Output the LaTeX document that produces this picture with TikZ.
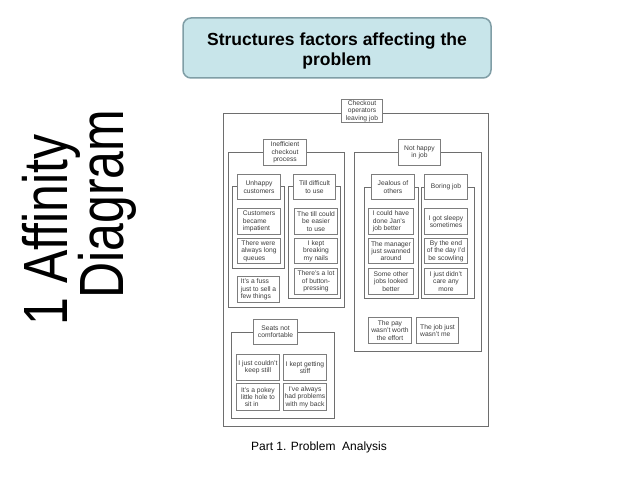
\documentclass[tikz,border=0pt]{standalone}
\usepackage{fontspec}
\setmainfont{Liberation Sans}
\definecolor{cardgray}{RGB}{125,125,125}
\definecolor{framegray}{RGB}{110,110,110}
\definecolor{titlefill}{RGB}{200,229,234}
\definecolor{titledraw}{RGB}{128,158,166}
\definecolor{cardtext}{RGB}{60,60,60}
\newcommand{\bx}[7][]{\node[card,#1,minimum width={#5-#3},minimum height={#6-#4}] (#2) at (#3,#4) {#7};}
\newcommand{\fr}[5]{\node[frame,minimum width={#4-#2},minimum height={#5-#3}] (#1) at (#2,#3) {};}
\begin{document}
\begin{tikzpicture}[x=1pt,y=-1pt,
  card/.style={draw=cardgray, line width=1pt, fill=white, inner sep=0pt, anchor=north west,
    font=\fontsize{6.7}{7.3}\selectfont, text=cardtext, align=center},
  frame/.style={draw=framegray, line width=0.8pt, anchor=north west, inner sep=0pt},
  outer/.style={draw=framegray, line width=1pt, anchor=north west, inner sep=0pt},
  title/.style={draw=titledraw, line width=1.5pt, fill=titlefill, rounded corners=8pt,
    font=\fontsize{17.5}{20}\selectfont\bfseries, align=center, inner sep=0pt},
  side/.style={rotate=90, anchor=base, font=\fontsize{50}{50}\selectfont, inner sep=0pt},
  caption/.style={font=\fontsize{12}{14}\selectfont, inner sep=0pt}
]
\useasboundingbox (0,0) rectangle (638,478);

% title
\node[title, minimum width=308, minimum height=60] (title) at (337,48) {};
\node[title, draw=none, fill=none] (titletext) at (337,50.5)
  {Structures factors affecting the\\problem};

% side text
\node[side] (side1) at (67,230) {\scalebox{1}[1.25]{1 Affinity}};
\node[side] (side2) at (123,204) {\scalebox{1}[1.25]{Diagram}};

% caption
\node[caption] (cap) at (319,447) {Part 1. Problem\ \ Analysis};

% frames
\node[outer, minimum width=265, minimum height=313] (outer) at (223,113) {};
\fr{gL}{228}{152}{344}{307}
\fr{gR}{354}{152}{481}{351}
\fr{gS}{231}{332}{334}{418}
\fr{sU}{232}{186}{284}{268}
\fr{sT}{288}{186}{340}{298}
\fr{sJ}{364}{187}{418}{298}
\fr{sB}{421}{187}{474}{298}

% header boxes
\bx{hC}{341}{99}{382}{122}{Checkout\\operators\\leaving job}
\bx{hI}{263}{139}{306}{165}{Inefficient\\checkout\\process}
\bx{hN}{398}{139}{440}{165}{Not happy\\in job}
\bx{hU}{237}{174}{280}{199}{Unhappy\\customers}
\bx{hT}{293}{174}{335}{199}{Till difficult\\to use}
\bx{hJ}{371}{174}{414}{199}{Jealous of\\others}
\bx{hB}{424}{174}{467}{199}{Boring job}
\bx{hS}{253}{319}{297}{344}{Seats not\\comfortable}

% cards: left group
\bx[align=left]{c1}{237}{208}{280}{234}{Customers\\became\\impatient}
\bx[align=left]{c2}{237}{238}{280}{263}{There were\\always long\\\ queues}
\bx[align=left]{c3}{237}{276}{279}{302}{It's a fuss\\just to sell a\\few things}
\bx{c4}{294}{208}{337}{234}{The till could\\be easier\\to use}
\bx{c5}{294}{238}{337}{263}{I kept\\breaking\\my nails}
\bx{c6}{294}{268}{337}{294}{There's a lot\\of button-\\pressing}

% cards: right group
\bx[align=left]{c7}{368}{208}{413}{234}{I could have\\done Jan's\\job better}
\bx{c8}{368}{238}{413}{263}{The manager\\just swanned\\around}
\bx{c9}{368}{268}{413}{294}{Some other\\jobs looked\\better}
\bx{c10}{424}{208}{467}{234}{I got sleepy\\sometimes}
\bx{c11}{424}{238}{467}{263}{By the end\\of the day I'd\\be scowling}
\bx{c12}{424}{268}{467}{294}{I just didn't\\care any\\more}
\bx{c13}{368}{317}{411}{343}{The pay\\wasn't worth\\the effort}
\bx[align=left]{c14}{416}{317}{458}{343}{The job just\\wasn't me}

% cards: seats group
\bx{c15}{236}{354}{279}{380}{I just couldn't\\keep still}
\bx{c16}{283}{354}{326}{380}{I kept getting\\stiff}
\bx[align=left]{c17}{236}{383}{279}{410}{It's a pokey\\little hole to\\\ \ sit in}
\bx{c18}{283}{383}{326}{410}{I've always\\had problems\\with my back}
\end{tikzpicture}
\end{document}
